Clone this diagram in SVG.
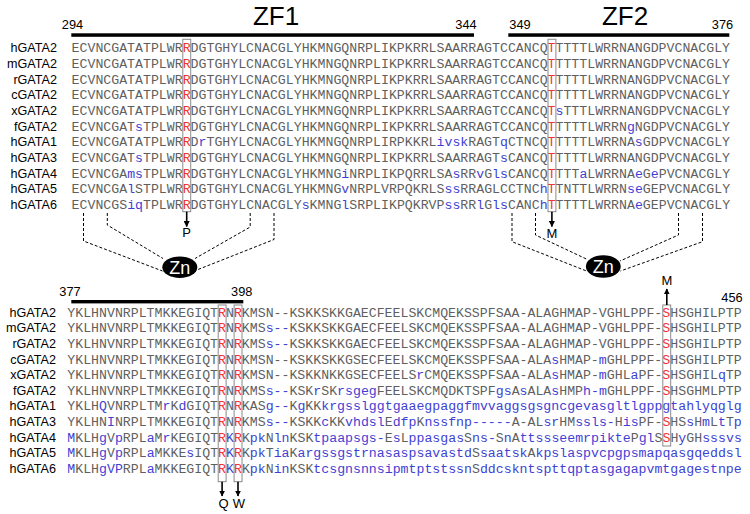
<svg xmlns="http://www.w3.org/2000/svg" width="750" height="514" viewBox="0 0 750 514">
<style>
.lab{font-family:"Liberation Sans",Arial,sans-serif;font-size:12.6px;fill:#000;text-anchor:end}
.num{font-family:"Liberation Sans",Arial,sans-serif;font-size:12.8px;fill:#000;text-anchor:middle}
.zf{font-family:"Liberation Sans",Arial,sans-serif;font-size:26px;fill:#000;text-anchor:middle}
.seq{font-family:"Liberation Mono","Courier New",monospace;font-size:13.23px;fill:#5f5f5f}
.b{fill:#3f3fd4}
.r{fill:#f03434}
.box{fill:none;stroke:#8a8a8a;stroke-width:1}
.bar{fill:#000}
.dash{fill:none;stroke:#000;stroke-width:1;stroke-dasharray:3 2}
.arr{stroke:#000;stroke-width:1.6;fill:none}
.mut{font-family:"Liberation Sans",Arial,sans-serif;font-size:13px;fill:#000;text-anchor:middle}
.zn{fill:#000}
.znt{font-family:"Liberation Sans",Arial,sans-serif;font-size:18px;fill:#fff;text-anchor:middle}
</style>
<defs>
<marker id="ah" viewBox="0 0 10 10" refX="9" refY="5" markerWidth="6" markerHeight="6" markerUnits="userSpaceOnUse" orient="auto">
<path d="M0,0 L10,5 L0,10 z" fill="#000"/>
</marker>
</defs>

<g id="header-top">
<text class="zf" x="276" y="25">ZF1</text>
<text class="zf" x="625" y="25">ZF2</text>
<text class="num" x="72.5" y="28.6">294</text>
<text class="num" x="466" y="28.6">344</text>
<text class="num" x="520" y="28.6">349</text>
<text class="num" x="722.5" y="28.6">376</text>
<rect class="bar" x="71.3" y="33.3" width="402.7" height="3.5"/>
<rect class="bar" x="508.3" y="33.3" width="221" height="3.5"/>
</g>

<g id="labels-top">
<text class="lab" x="57" y="52.3">hGATA2</text>
<text class="lab" x="57" y="67.96">mGATA2</text>
<text class="lab" x="57" y="83.62">rGATA2</text>
<text class="lab" x="57" y="99.28">cGATA2</text>
<text class="lab" x="57" y="114.94">xGATA2</text>
<text class="lab" x="57" y="130.6">fGATA2</text>
<text class="lab" x="57" y="146.26">hGATA1</text>
<text class="lab" x="57" y="161.92">hGATA3</text>
<text class="lab" x="57" y="177.58">hGATA4</text>
<text class="lab" x="57" y="193.24">hGATA5</text>
<text class="lab" x="57" y="208.9">hGATA6</text>
</g>

<g id="seq-top">
<text class="seq" x="71.6" y="52.3">ECVNCGATATPLWR<tspan class="r">R</tspan>DGTGHYLCNACGLYHKMNGQNRPLIKPKRRLSAARRAGTCCANCQ<tspan class="r">T</tspan>TTTTLWRRNANGDPVCNACGLY</text>
<text class="seq" x="71.6" y="67.96">ECVNCGATATPLWR<tspan class="r">R</tspan>DGTGHYLCNACGLYHKMNGQNRPLIKPKRRLSAARRAGTCCANCQ<tspan class="r">T</tspan>TTTTLWRRNANGDPVCNACGLY</text>
<text class="seq" x="71.6" y="83.62">ECVNCGATATPLWR<tspan class="r">R</tspan>DGTGHYLCNACGLYHKMNGQNRPLIKPKRRLSAARRAGTCCANCQ<tspan class="r">T</tspan>TTTTLWRRNANGDPVCNACGLY</text>
<text class="seq" x="71.6" y="99.28">ECVNCGATATPLWR<tspan class="r">R</tspan>DGTGHYLCNACGLYHKMNGQNRPLIKPKRRLSAARRAGTCCANCQ<tspan class="r">T</tspan>TTTTLWRRNANGDPVCNACGLY</text>
<text class="seq" x="71.6" y="114.94">ECVNCGATATPLWR<tspan class="r">R</tspan>DGTGHYLCNACGLYHKMNGQNRPLIKPKRRLSAARRAGTCCANCQ<tspan class="r">T</tspan><tspan class="b">s</tspan>TTTLWRRNANGDPVCNACGLY</text>
<text class="seq" x="71.6" y="130.6">ECVNCGAT<tspan class="b">s</tspan>TPLWR<tspan class="r">R</tspan>DGTGHYLCNACGLYHKMNGQNRPLIKPKRRLSAARRAGTCCANCQ<tspan class="r">T</tspan>TTTTLWRRN<tspan class="b">g</tspan>NGDPVCNACGLY</text>
<text class="seq" x="71.6" y="146.26">ECVNCGATATPLWR<tspan class="r">R</tspan>D<tspan class="b">r</tspan>TGHYLCNACGLYHKMNGQNRPLIRPKKRL<tspan class="b">ivsk</tspan>RAGT<tspan class="b">q</tspan>CTNCQ<tspan class="r">T</tspan>TTTTLWRRNA<tspan class="b">s</tspan>GDPVCNACGLY</text>
<text class="seq" x="71.6" y="161.92">ECVNCGAT<tspan class="b">s</tspan>TPLWR<tspan class="r">R</tspan>DGTGHYLCNACGLYHKMNGQNRPLIKPKRRLSAARRAGT<tspan class="b">s</tspan>CANCQ<tspan class="r">T</tspan>TTTTLWRRNANGDPVCNACGLY</text>
<text class="seq" x="71.6" y="177.58">ECVNCGA<tspan class="b">ms</tspan>TPLWR<tspan class="r">R</tspan>DGTGHYLCNACGLYHKMNG<tspan class="b">i</tspan>NRPLIKPQRRLSA<tspan class="b">s</tspan>RR<tspan class="b">v</tspan>G<tspan class="b">ls</tspan>CANCQ<tspan class="r">T</tspan>TTT<tspan class="b">a</tspan>LWRRNA<tspan class="b">e</tspan>G<tspan class="b">e</tspan>PVCNACGLY</text>
<text class="seq" x="71.6" y="193.24">ECVNCGA<tspan class="b">l</tspan>STPLWR<tspan class="r">R</tspan>DGTGHYLCNACGLYHKMNG<tspan class="b">v</tspan>NRPLVRPQKRLS<tspan class="b">ss</tspan>RRAGLCCTNC<tspan class="b">h</tspan><tspan class="r">T</tspan>TNTTLWRRN<tspan class="b">se</tspan>GEPVCNACGLY</text>
<text class="seq" x="71.6" y="208.9">ECVNCGS<tspan class="b">iq</tspan>TPLWR<tspan class="r">R</tspan>DGTGHYLCNACGLY<tspan class="b">s</tspan>KMNG<tspan class="b">l</tspan>SRPLIKPQKRVP<tspan class="b">ss</tspan>RR<tspan class="b">l</tspan>G<tspan class="b">ls</tspan>CANC<tspan class="b">h</tspan><tspan class="r">T</tspan>TTTTLWRRNA<tspan class="b">e</tspan>GEPVCNACGLY</text>
</g>

<g id="mut-R308">
<rect class="box" x="182.8" y="39.3" width="7.9" height="172.4"/>
<line class="arr" x1="186.7" y1="211.7" x2="186.7" y2="226.5" marker-end="url(#ah)"/>
<text class="mut" x="186.7" y="237">P</text>
</g>
<g id="mut-T354">
<rect class="box" x="548" y="39.3" width="7.9" height="172.4"/>
<line class="arr" x1="551.9" y1="211.7" x2="551.9" y2="226.5" marker-end="url(#ah)"/>
<text class="mut" x="551.9" y="237.5">M</text>
</g>

<g id="connectors">
<polyline class="dash" points="83.5,213 83.5,241 162.5,271"/>
<polyline class="dash" points="107.3,213 107.3,225 163,258.5"/>
<polyline class="dash" points="250.2,213 250.2,227 195,258.5"/>
<polyline class="dash" points="274,213 274,239.5 195.5,270.5"/>
<polyline class="dash" points="512,213 512,241.7 586.5,271"/>
<polyline class="dash" points="535.5,213 535.5,235 587,259.3"/>
<polyline class="dash" points="678.5,213 678.5,235 620,261"/>
<polyline class="dash" points="702.5,213 702.5,241.7 620.5,271"/>
</g>

<g id="zn1">
<ellipse class="zn" cx="179.8" cy="267.2" rx="17.5" ry="10.8"/>
<text class="znt" x="179.8" y="273.6">Zn</text>
</g>
<g id="zn2">
<ellipse class="zn" cx="603.3" cy="266.5" rx="17.4" ry="11.2"/>
<text class="znt" x="603.3" y="273">Zn</text>
</g>

<g id="header-bottom">
<text class="num" x="70" y="296.3">377</text>
<text class="num" x="241.7" y="296.3">398</text>
<text class="num" x="732" y="302">456</text>
<rect class="bar" x="71.3" y="300" width="172" height="3.4"/>
</g>

<g id="labels-bottom">
<text class="lab" x="56" y="316.8">hGATA2</text>
<text class="lab" x="56" y="332.4">mGATA2</text>
<text class="lab" x="56" y="348">rGATA2</text>
<text class="lab" x="56" y="363.6">cGATA2</text>
<text class="lab" x="56" y="379.2">xGATA2</text>
<text class="lab" x="56" y="394.8">fGATA2</text>
<text class="lab" x="56" y="410.4">hGATA1</text>
<text class="lab" x="56" y="426">hGATA3</text>
<text class="lab" x="56" y="441.6">hGATA4</text>
<text class="lab" x="56" y="457.2">hGATA5</text>
<text class="lab" x="56" y="472.8">hGATA6</text>
</g>

<g id="seq-bottom">
<text class="seq" x="67.3" y="316.8">YKLHNVNRPLTMKKEGIQT<tspan class="r">R</tspan>N<tspan class="r">R</tspan>KMSN--KSKKSKKGAECFEELSKCMQEKSSPFSAA-ALAGHMAP-VGHLPPF-<tspan class="r">S</tspan>HSGHILPTP</text>
<text class="seq" x="67.3" y="332.4">YKLHNVNRPLTMKKEGIQT<tspan class="r">R</tspan>N<tspan class="r">R</tspan>KMS<tspan class="b">s--</tspan>KSKKSKKGAECFEELSKCMQEKSSPFSAA-ALAGHMAP-VGHLPPF-<tspan class="r">S</tspan>HSGHILPTP</text>
<text class="seq" x="67.3" y="348">YKLHNVNRPLTMKKEGIQT<tspan class="r">R</tspan>N<tspan class="r">R</tspan>KMS<tspan class="b">s--</tspan>KSKKSKKGAECFEELSKCMQEKSSPFSAA-ALAGHMAP-VGHLPPF-<tspan class="r">S</tspan>HSGHILPTP</text>
<text class="seq" x="67.3" y="363.6">YKLHNVNRPLTMKKEGIQT<tspan class="r">R</tspan>N<tspan class="r">R</tspan>KMSN--KSKKSKKGSECFEELSKCMQEKSSPFSAA-ALA<tspan class="b">s</tspan>HMAP-<tspan class="b">m</tspan>GHLPPF-<tspan class="r">S</tspan>HSGHILPTP</text>
<text class="seq" x="67.3" y="379.2">YKLHNVNRPLTMKKEGIQT<tspan class="r">R</tspan>N<tspan class="r">R</tspan>KMSN--KSKKNKKGSECFEELS<tspan class="b">r</tspan>CMQEKSSPFSAA-ALA<tspan class="b">s</tspan>HMAP-<tspan class="b">m</tspan>GHL<tspan class="b">a</tspan>PF-<tspan class="r">S</tspan>HSGHIL<tspan class="b">q</tspan>TP</text>
<text class="seq" x="67.3" y="394.8">YKLHNVNRPLTMKKEGIQT<tspan class="r">R</tspan>N<tspan class="r">R</tspan>KMS<tspan class="b">s--</tspan>KSK<tspan class="b">r</tspan>SK<tspan class="b">rsgeg</tspan>FEELSKCMQDKTSPF<tspan class="b">gs</tspan>A<tspan class="b">s</tspan>ALA<tspan class="b">s</tspan>HMP<tspan class="b">h-m</tspan>GHLPPF-<tspan class="r">S</tspan>HSGHMLPTP</text>
<text class="seq" x="67.3" y="410.4">YKLH<tspan class="b">Q</tspan>VNRPLTM<tspan class="b">r</tspan>K<tspan class="b">d</tspan>GIQT<tspan class="r">R</tspan>N<tspan class="r">R</tspan>KAS<tspan class="b">g--</tspan>K<tspan class="b">g</tspan>KK<tspan class="b">krgsslggtgaaegpaggfmvvaggsgsgncgevasgltlgppgtahlyqglg</tspan></text>
<text class="seq" x="67.3" y="426">YKLHN<tspan class="b">I</tspan>NRPLTMKKEGIQT<tspan class="r">R</tspan>N<tspan class="r">R</tspan>KMS<tspan class="b">s--</tspan>KSKK<tspan class="b">c</tspan>KK<tspan class="b">vhdsl</tspan>E<tspan class="b">dfp</tspan>K<tspan class="b">nssfnp-----</tspan>A-AL<tspan class="b">sr</tspan>HM<tspan class="b">ssls-</tspan>H<tspan class="b">is</tspan>PF-<tspan class="r">S</tspan>HS<tspan class="b">s</tspan>H<tspan class="b">m</tspan>L<tspan class="b">t</tspan>T<tspan class="b">p</tspan></text>
<text class="seq" x="67.3" y="441.6"><tspan class="b">M</tspan>KLH<tspan class="b">g</tspan>V<tspan class="b">p</tspan>RPL<tspan class="b">a</tspan>M<tspan class="b">r</tspan>KEGIQT<tspan class="r">R</tspan><tspan class="b">K</tspan><tspan class="r">R</tspan>K<tspan class="b">pk</tspan>N<tspan class="b">ln</tspan>KSK<tspan class="b">tpaapsgs-</tspan>E<tspan class="b">s</tspan>L<tspan class="b">ppasgas</tspan>S<tspan class="b">ns-</tspan>S<tspan class="b">n</tspan>A<tspan class="b">ttssseemrpikte</tspan>P<tspan class="b">gl</tspan>S<tspan class="r">S</tspan>H<tspan class="b">y</tspan>GH<tspan class="b">sssvs</tspan></text>
<text class="seq" x="67.3" y="457.2"><tspan class="b">M</tspan>KLH<tspan class="b">g</tspan>V<tspan class="b">p</tspan>RPL<tspan class="b">a</tspan>MKKE<tspan class="b">s</tspan>IQT<tspan class="r">R</tspan><tspan class="b">K</tspan><tspan class="r">R</tspan>K<tspan class="b">pk</tspan>T<tspan class="b">ia</tspan>K<tspan class="b">argssgstrnasaspsavastd</tspan>S<tspan class="b">saatsk</tspan>A<tspan class="b">kpslaspvcpgpsmapqasgqeddsl</tspan></text>
<text class="seq" x="67.3" y="472.8"><tspan class="b">M</tspan>KLH<tspan class="b">gVP</tspan>RPL<tspan class="b">a</tspan>MKKEGIQT<tspan class="r">R</tspan><tspan class="b">K</tspan><tspan class="r">R</tspan>K<tspan class="b">pk</tspan>N<tspan class="b">in</tspan>KSK<tspan class="b">tcsgnsnnsipmtptstssn</tspan>S<tspan class="b">ddcskntspttqptasgagapvmtgagestnpe</tspan></text>
</g>

<g id="mut-R396-R398">
<rect class="box" x="218.2" y="305" width="7.9" height="176.7"/>
<rect class="box" x="234.1" y="305" width="7.9" height="176.7"/>
<line class="arr" x1="222.1" y1="481.7" x2="222.1" y2="496" marker-end="url(#ah)"/>
<line class="arr" x1="238" y1="481.7" x2="238" y2="496" marker-end="url(#ah)"/>
<text class="mut" x="223.5" y="508">Q</text>
<text class="mut" x="238.8" y="508">W</text>
</g>
<g id="mut-S447">
<rect class="box" x="662.8" y="305" width="7.9" height="141"/>
<line class="arr" x1="666.8" y1="305" x2="666.8" y2="289" marker-end="url(#ah)"/>
<text class="mut" x="666.8" y="285">M</text>
</g>
</svg>
